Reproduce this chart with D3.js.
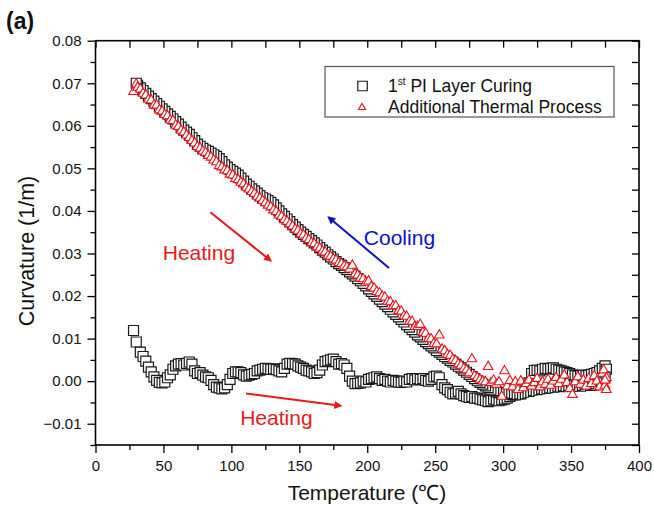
<!DOCTYPE html>
<html>
<head>
<meta charset="utf-8">
<script src="https://cdn.jsdelivr.net/npm/d3@7"></script>
<style>
  body { margin: 0; background: #fff; }
  svg text { font-family: "Liberation Sans", Arial, sans-serif; }
</style>
</head>
<body>
<div id="chart"></div>
<script>
// ---- data: [temperature (°C), curvature (1/m)] ----
const curingHeat = [
  [28,.0119],[30,.0092],[33,.0068],[35,.0058],[37,.0047],[39,.0033],[41,.0022],[43,.0010],[45,.0002],[47,-.0003],
  [49,-.0004],[51,-.0002],[53,.0008],[55,.0015],[57,.0028],[59,.0036],[61,.0040],[63,.0041],[65,.0038],[67,.0042],
  [69,.0045],[71,.0040],[73,.0024],[75,.0018],[77,.0020],[79,.0014],[81,.0010],[83,.0008],[85,.0002],[87,-.0008],
  [89,-.0014],[91,-.0016],[93,-.0018],[95,-.0016],[97,-.0008],[99,.0004],[101,.0018],[103,.0022],[105,.0022],[107,.0020],
  [109,.0015],[111,.0012],[113,.0014],[115,.0016],[117,.0018],[119,.0024],[121,.0026],[123,.0028],[125,.0030],[127,.0029],
  [129,.0028],[131,.0029],[133,.0027],[135,.0024],[137,.0022],[139,.0030],[141,.0040],[143,.0042],[145,.0041],[147,.0040],
  [149,.0036],[151,.0033],[153,.0030],[155,.0026],[157,.0024],[159,.0022],[161,.0018],[163,.0020],[165,.0026],[167,.0038],
  [169,.0046],[171,.0048],[173,.0050],[175,.0052],[177,.0046],[179,.0040],[181,.0041],[183,.0038],[185,.0030],[187,.0012],
  [189,.0000],[191,-.0006],[193,-.0005],[195,-.0004],[197,.0000],[199,-.0002],[201,.0004],[203,.0006],[205,.0008],[207,.0010],
  [209,.0006],[211,.0002],[213,.0004],[215,.0000],[217,-.0002],[219,.0002],[221,.0000],[223,-.0002],[225,-.0003],[227,.0000],
  [229,-.0002],[231,.0004],[233,.0006],[235,.0003],[237,.0006],[239,.0004],[241,.0006],[243,.0002],[245,.0000],[247,.0004],
  [249,.0010],[251,.0012],[253,.0008],[255,-.0008],[257,-.0016],[259,-.0020],[261,-.0026],[263,-.0030],[265,-.0028],[267,-.0024],
  [269,-.0030],[271,-.0034],[273,-.0036],[275,-.0038],[277,-.0036],[279,-.0040],[281,-.0040],[283,-.0042],[285,-.0044],[287,-.0046],
  [289,-.0048],[291,-.0046],[293,-.0042],[295,-.0044],[297,-.0046],[299,-.0044],[301,-.0042],[303,-.0040],[305,-.0036],[307,-.0032],
  [309,-.0030],[311,-.0028],[313,-.0030],[315,-.0024],[317,-.0016],[319,-.0004],[321,.0018],[323,.0025],[325,.0026],[327,.0024],
  [329,.0028],[331,.0030],[333,.0029],[335,.0030],[337,.0031],[339,.0028],[341,.0026],[343,.0024],[345,.0022],[347,.0020],
  [349,.0018],[351,.0015],[353,.0013],[355,.0012],[357,.0013],[359,.0014],[361,.0013],[363,.0014],[365,.0016],[367,.0018],
  [369,.0020],[371,.0024],[373,.0030],[375,.0036]
];

const curingCool = [
  [376,.0028],[375,.0010],[373,.0000],[371,-.0006],[369,-.0004],[367,-.0008],[365,-.0010],[363,-.0006],[361,-.0008],[359,-.0010],
  [357,-.0012],[355,-.0008],[353,-.0010],[351,-.0012],[349,-.0009],[347,-.0011],[345,-.0008],[343,-.0010],[341,-.0013],[339,-.0011],
  [337,-.0014],[335,-.0012],[333,-.0015],[331,-.0017],[329,-.0016],[327,-.0018],[325,-.0020],[323,-.0018],[321,-.0021],[319,-.0024],
  [317,-.0022],[315,-.0026],[313,-.0028],[311,-.0030],[309,-.0032],[307,-.0030],[305,-.0031],[303,-.0029],[301,-.0028],[299,-.0028],
  [297,-.0027],[295,-.0025],[293,-.0022],[291,-.0019],[289,-.0015],[287,-.0011],[285,-.0007],[283,-.0003],[281,.0001],[279,.0006],
  [277,.0011],[275,.0016],[273,.0021],[271,.0026],[269,.0031],[267,.0035],[265,.0040],[263,.0045],[261,.0049],[259,.0054],
  [257,.0058],[255,.0063],[253,.0068],[251,.0072],[249,.0078],[247,.0083],[245,.0088],[243,.0093],[241,.0098],[239,.0104],
  [237,.0109],[235,.0115],[233,.0121],[231,.0127],[229,.0133],[227,.0139],[225,.0145],[223,.0151],[221,.0157],[219,.0163],
  [217,.0169],[215,.0175],[213,.0181],[211,.0187],[209,.0193],[207,.0199],[205,.0205],[203,.0211],[201,.0217],[199,.0224],
  [197,.0230],[195,.0236],[193,.0241],[191,.0247],[189,.0252],[187,.0257],[185,.0262],[183,.0267],[181,.0272],[179,.0276],
  [177,.0281],[175,.0287],[173,.0292],[171,.0297],[169,.0303],[167,.0308],[165,.0314],[163,.0320],[161,.0325],[159,.0330],
  [157,.0335],[155,.0340],[153,.0345],[151,.0350],[149,.0356],[147,.0362],[145,.0368],[143,.0375],[141,.0381],[139,.0387],
  [137,.0393],[135,.0400],[133,.0407],[131,.0414],[129,.0420],[127,.0424],[125,.0428],[123,.0431],[121,.0436],[119,.0442],
  [117,.0447],[115,.0452],[113,.0458],[111,.0463],[109,.0470],[107,.0477],[105,.0484],[103,.0489],[101,.0493],[99,.0497],
  [97,.0503],[95,.0508],[93,.0516],[91,.0523],[89,.0528],[87,.0532],[85,.0536],[83,.0540],[81,.0543],[79,.0547],
  [77,.0552],[75,.0557],[73,.0565],[71,.0572],[69,.0580],[67,.0585],[65,.0590],[63,.0597],[61,.0604],[59,.0610],
  [57,.0616],[55,.0622],[53,.0628],[51,.0634],[49,.0640],[47,.0646],[45,.0652],[43,.0658],[41,.0664],[39,.0670],
  [37,.0676],[35,.0683],[33,.0689],[31,.0695],[30,.0700]
];

const additional = [
  [28,.0680],[30,.0698],[31,.0690],[33,.0686],[35,.0676],[37,.0672],[39,.0662],[41,.0660],[43,.0648],[45,.0648],
  [47,.0637],[49,.0634],[51,.0626],[53,.0623],[55,.0613],[57,.0612],[59,.0601],[61,.0598],[63,.0589],[65,.0585],
  [67,.0578],[69,.0572],[71,.0565],[73,.0559],[75,.0551],[77,.0547],[79,.0540],[81,.0537],[83,.0530],[85,.0526],
  [87,.0519],[89,.0515],[91,.0506],[93,.0503],[95,.0496],[97,.0494],[99,.0486],[101,.0484],[103,.0476],[105,.0473],
  [107,.0467],[109,.0463],[111,.0455],[113,.0451],[115,.0445],[117,.0441],[119,.0434],[121,.0430],[123,.0424],[125,.0419],
  [127,.0413],[129,.0409],[131,.0402],[133,.0398],[135,.0390],[137,.0387],[139,.0379],[141,.0375],[143,.0369],[145,.0364],
  [147,.0357],[149,.0354],[151,.0346],[153,.0343],[155,.0336],[157,.0332],[159,.0325],[161,.0323],[163,.0315],[165,.0312],
  [167,.0305],[169,.0303],[171,.0295],[173,.0293],[175,.0287],[177,.0284],[179,.0278],[181,.0276],[183,.0270],[185,.0268],
  [187,.0263],[189,.0272],[191,.0252],[193,.0249],[195,.0242],[197,.0240],[199,.0232],[201,.0235],[203,.0222],[205,.0218],
  [207,.0210],[209,.0207],[211,.0199],[213,.0197],[215,.0187],[217,.0186],[219,.0176],[221,.0177],[223,.0165],[225,.0164],
  [227,.0153],[229,.0152],[231,.0140],[233,.0140],[235,.0128],[237,.0128],[239,.0133],[241,.0114],[243,.0112],[245,.0100],
  [247,.0099],[249,.0088],[251,.0087],[253,.0108],[255,.0075],[257,.0071],[259,.0062],[261,.0060],[263,.0051],[265,.0048],
  [267,.0040],[269,.0037],[271,.0029],[273,.0026],[275,.0019],[277,.0052],[279,.0012],[281,.0008],[283,.0004],[285,.0000],
  [287,-.0002],[289,.0034],[291,-.0004],[293,.0002],[295,-.0008],[297,-.0002],[299,-.0036],[301,.0024],[303,-.0012],[305,.0001],
  [307,-.0014],[309,-.0002],[311,-.0020],[313,.0000],[315,-.0016],[317,-.0006],[319,.0002],[321,-.0012],[323,-.0004],[325,.0006],
  [327,-.0014],[329,-.0002],[331,-.0008],[333,.0004],[335,-.0010],[337,.0000],[339,.0008],[341,-.0006],[343,.0004],[345,.0014],
  [347,-.0004],[349,-.0018],[351,-.0032],[353,-.0002],[355,.0010],[357,-.0008],[359,.0002],[361,-.0012],[363,.0006],[365,-.0006],
  [367,.0012],[369,.0000],[371,-.0014],[373,.0018],[374,.0026],[375,-.0010],[376,.0008],[376,-.0020],[375,.0002]
];

const xTicks = [0, 50, 100, 150, 200, 250, 300, 350, 400];
const yTicks = [-0.01, 0, 0.01, 0.02, 0.03, 0.04, 0.05, 0.06, 0.07, 0.08];
const legendLabels = ['PI Layer Curing', 'Additional Thermal Process'];

// annotation arrows in data units
const arrows = [
  { from: [84.5, 0.0397], to: [129, 0.0283], color: '#e41a1c' },
  { from: [216, 0.0266], to: [171.5, 0.0385], color: '#1010c8' },
  { from: [110.8, -0.0029], to: [180.5, -0.0058], color: '#e41a1c' }
];
const notes = [
  { text: 'Heating', at: [49.5, 0.0284], color: '#e41a1c' },
  { text: 'Cooling', at: [197.5, 0.0319], color: '#1010c8' },
  { text: 'Heating', at: [106.5, -0.0103], color: '#e41a1c' }
];

const W = 654, H = 505;
const plot = { left: 95.5, right: 639, top: 40.7, bottom: 445 };

const svg = d3.select('#chart').append('svg')
  .attr('width', W).attr('height', H);

const x = d3.scaleLinear().domain([0, 400]).range([plot.left, plot.right]);
const y = d3.scaleLinear().domain([-0.015, 0.08]).range([plot.bottom, plot.top]);

const xMinor = d3.range(25, 400, 50);
const yMinor = d3.range(-0.015, 0.08, 0.01).map(v => +v.toFixed(3));

function styleAxis(g) {
  g.select('.domain').remove();
  g.selectAll('line').attr('stroke', '#000').attr('stroke-width', 1.3);
  g.selectAll('text').attr('font-size', '15px').attr('fill', '#111');
}

// bottom
svg.append('g').attr('transform', `translate(0,${plot.bottom})`)
  .call(d3.axisBottom(x).tickValues(xTicks).tickSize(8).tickPadding(7).tickFormat(d3.format('d')))
  .call(styleAxis);
svg.append('g').attr('transform', `translate(0,${plot.bottom})`)
  .call(d3.axisBottom(x).tickValues(xMinor).tickSize(5).tickFormat(''))
  .call(styleAxis);
// top (inward)
svg.append('g').attr('transform', `translate(0,${plot.top})`)
  .call(d3.axisTop(x).tickValues(xTicks.concat(xMinor)).tickSize(-7).tickFormat(''))
  .call(styleAxis);
// left
svg.append('g').attr('transform', `translate(${plot.left},0)`)
  .call(d3.axisLeft(y).tickValues(yTicks).tickSize(8).tickPadding(6).tickFormat(d3.format('.2f')))
  .call(styleAxis);
svg.append('g').attr('transform', `translate(${plot.left},0)`)
  .call(d3.axisLeft(y).tickValues(yMinor).tickSize(5).tickFormat(''))
  .call(styleAxis);
// right (inward)
svg.append('g').attr('transform', `translate(${plot.right},0)`)
  .call(d3.axisRight(y).tickValues(yTicks.concat(yMinor)).tickSize(-7).tickFormat(''))
  .call(styleAxis);

// frame
svg.append('rect')
  .attr('x', plot.left).attr('y', plot.top)
  .attr('width', plot.right - plot.left).attr('height', plot.bottom - plot.top)
  .attr('fill', 'none').attr('stroke', '#000').attr('stroke-width', 1.6);

// points
const square = d3.symbol().type(d3.symbolSquare).size(100);
const tri = d3.symbol().type(d3.symbolTriangle).size(40);

const pts = svg.append('g');
pts.selectAll('.sq').data(curingHeat.concat(curingCool)).join('path')
  .attr('transform', d => `translate(${x(d[0])},${y(d[1])})`)
  .attr('d', square)
  .attr('fill', '#fff').attr('stroke', '#1a1a1a').attr('stroke-width', 1.2);

pts.selectAll('.tr').data(additional).join('path')
  .attr('transform', d => `translate(${x(d[0])},${y(d[1])})`)
  .attr('d', tri)
  .attr('fill', '#fff').attr('stroke', '#e8141b').attr('stroke-width', 1.1);

// arrows
const defs = svg.append('defs');
arrows.forEach((a, i) => {
  defs.append('marker').attr('id', 'ah' + i)
    .attr('viewBox', '0 0 10 10').attr('refX', 8).attr('refY', 5)
    .attr('markerWidth', 5).attr('markerHeight', 4).attr('orient', 'auto')
    .attr('markerUnits', 'strokeWidth')
    .append('path').attr('d', 'M0,0 L10,5 L0,10 z').attr('fill', a.color);
  svg.append('line')
    .attr('x1', x(a.from[0])).attr('y1', y(a.from[1]))
    .attr('x2', x(a.to[0])).attr('y2', y(a.to[1]))
    .attr('stroke', a.color).attr('stroke-width', 2)
    .attr('marker-end', `url(#ah${i})`);
});

notes.forEach(n => {
  svg.append('text')
    .attr('x', x(n.at[0])).attr('y', y(n.at[1]))
    .attr('font-size', '21px').attr('fill', n.color)
    .text(n.text);
});

// legend
const lg = svg.append('g');
lg.append('rect')
  .attr('x', 325).attr('y', 66.5).attr('width', 289).attr('height', 50.5)
  .attr('fill', '#fff').attr('stroke', '#555').attr('stroke-width', 1.2);
lg.append('path').attr('transform', 'translate(362.5,86)')
  .attr('d', d3.symbol().type(d3.symbolSquare).size(90))
  .attr('fill', '#fff').attr('stroke', '#1a1a1a').attr('stroke-width', 1.2);
lg.append('path').attr('transform', 'translate(362,107.5)')
  .attr('d', d3.symbol().type(d3.symbolTriangle).size(22))
  .attr('fill', '#fff').attr('stroke', '#e8141b').attr('stroke-width', 1.1);

const t1 = lg.append('text').attr('x', 388).attr('y', 92)
  .attr('font-size', '17.5px').attr('fill', '#111');
t1.append('tspan').text('1');
t1.append('tspan').attr('font-size', '10px').attr('dy', -7).text('st');
t1.append('tspan').attr('dy', 7).text(' ' + legendLabels[0]);
lg.append('text').attr('x', 388).attr('y', 113)
  .attr('font-size', '17.5px').attr('fill', '#111')
  .text(legendLabels[1]);

// axis titles
svg.append('text')
  .attr('x', 367).attr('y', 500)
  .attr('text-anchor', 'middle').attr('font-size', '21px').attr('fill', '#111')
  .text('Temperature (℃)');

svg.append('text')
  .attr('transform', 'rotate(-90)')
  .attr('x', -251).attr('y', 34)
  .attr('text-anchor', 'middle').attr('font-size', '21.5px').attr('fill', '#111')
  .text('Curvature (1/m)');

svg.append('text')
  .attr('x', 6).attr('y', 29)
  .attr('font-size', '23px').attr('font-weight', 'bold').attr('fill', '#111')
  .text('(a)');
</script>
</body>
</html>
